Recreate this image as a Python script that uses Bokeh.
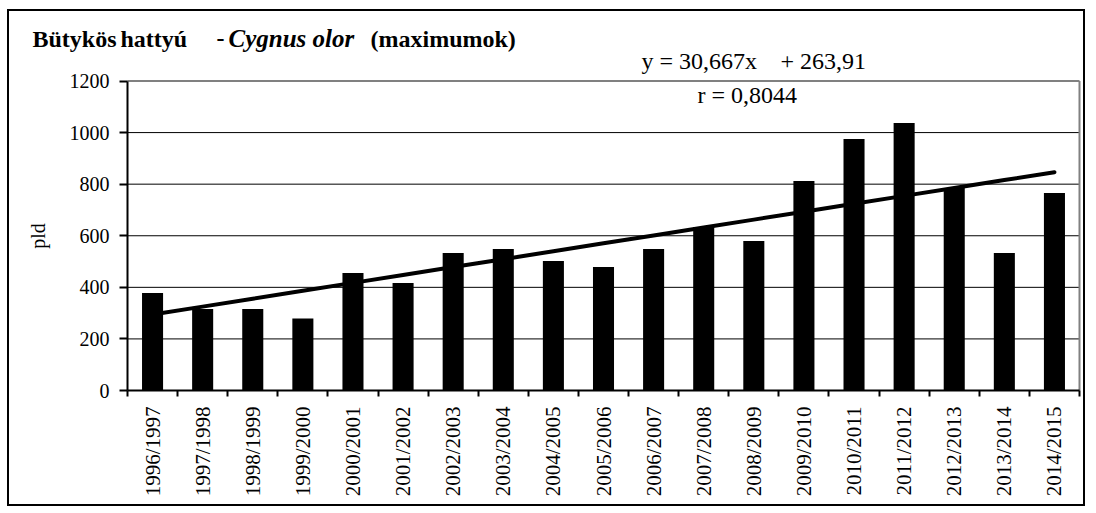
import math
from bokeh.plotting import figure
from bokeh.models import FixedTicker, Label, Range1d, ColumnDataSource
from bokeh.embed import file_html
from bokeh.resources import INLINE

# ---- data ----
seasons = ["1996/1997", "1997/1998", "1998/1999", "1999/2000", "2000/2001",
           "2001/2002", "2002/2003", "2003/2004", "2004/2005", "2005/2006",
           "2006/2007", "2007/2008", "2008/2009", "2009/2010", "2010/2011",
           "2011/2012", "2012/2013", "2013/2014", "2014/2015"]
maximums = [378, 316, 316, 279, 456, 417, 533, 549, 502, 479,
            549, 634, 580, 812, 975, 1037, 785, 533, 766]
trend_slope = 30.667
trend_intercept = 263.91
trend_r = "0,8044"
y_ticks = [0, 200, 400, 600, 800, 1000, 1200]
y_max = 1200

FONT = "Liberation Serif"

n = len(seasons)
x_idx = list(range(1, n + 1))
trend_y = [trend_slope * x + trend_intercept for x in x_idx]

# ---- layout (page pixels) ----
CANVAS_X0, CANVAS_Y0 = 9, 11      # page position of canvas (margin + css border)
W, H = 1078, 497
PX_LEFT, PX_RIGHT = 127, 1079     # plot area on the page
PX_TOP, PX_BOTTOM = 80.5, 390
TEXT_SHIFT = 9                    # label baseline correction

ux = (PX_RIGHT - PX_LEFT) / n
uy = (PX_BOTTOM - PX_TOP) / y_max
x_start = 0.5 - (PX_LEFT - CANVAS_X0) / ux
x_end = 0.5 + (CANVAS_X0 + W - PX_LEFT) / ux
y_end = (PX_BOTTOM - CANVAS_Y0) / uy
y_start = (PX_BOTTOM - (CANVAS_Y0 + H)) / uy

def dx(px):
    return 0.5 + (px - PX_LEFT) / ux

def dy(py):
    return (PX_BOTTOM - py) / uy

p = figure(width=W, height=H, title=None,
           x_range=Range1d(x_start, x_end), y_range=Range1d(y_start, y_end),
           output_backend="svg", toolbar_location=None, min_border=0)
p.styles = {"border": "2px solid black", "margin-left": "7px", "margin-top": "9px"}
p.background_fill_color = "white"
p.border_fill_color = "white"
p.outline_line_color = None
p.xgrid.visible = False
p.ygrid.visible = False

x_lo, x_hi = 0.5, n + 0.5

# gridlines
grid_vals = y_ticks[1:-1]
p.segment(x0=[x_lo] * len(grid_vals), y0=grid_vals, x1=[x_hi] * len(grid_vals), y1=grid_vals,
          line_color="black", line_width=1)
# plot-area border (top and right, gray)
p.segment(x0=[x_lo, x_hi], y0=[y_max, 0], x1=[x_hi, x_hi], y1=[y_max, y_max],
          line_color="#808080", line_width=2)

src = ColumnDataSource(dict(x=x_idx, top=maximums))
p.vbar(x="x", top="top", width=0.42, source=src, fill_color="black", line_color=None)
p.line(x_idx, trend_y, line_color="black", line_width=4, line_cap="round")

# y axis
yax = p.yaxis[0]
yax.fixed_location = x_lo
yax.bounds = (0, y_max)
yax.ticker = FixedTicker(ticks=y_ticks)
yax.axis_line_color = "black"
yax.axis_line_width = 2
yax.major_tick_out = 8
yax.major_tick_in = 0
yax.major_tick_line_width = 2
yax.minor_tick_line_color = None
yax.major_label_text_font = FONT
yax.major_label_text_font_size = "20px"
yax.major_label_text_color = "black"
yax.major_label_standoff = 10
yax.axis_label = "pld"
yax.axis_label_text_font = FONT
yax.axis_label_text_font_size = "20px"
yax.axis_label_text_font_style = "normal"
yax.axis_label_text_color = "black"
yax.axis_label_standoff = 18

# x axis
xax = p.xaxis[0]
xax.fixed_location = 0
xax.bounds = (x_lo, x_hi)
xax.ticker = FixedTicker(ticks=x_idx, minor_ticks=[x - 0.5 for x in x_idx] + [x_hi])
xax.major_label_overrides = {x: s for x, s in zip(x_idx, seasons)}
xax.major_label_orientation = math.pi / 2
xax.axis_line_color = "black"
xax.axis_line_width = 2
xax.major_tick_out = 0
xax.major_tick_in = 0
xax.minor_tick_out = 6
xax.minor_tick_in = 0
xax.minor_tick_line_color = "black"
xax.minor_tick_line_width = 2
xax.major_label_text_font = FONT
xax.major_label_text_font_size = "21px"
xax.major_label_text_color = "black"
xax.major_label_standoff = 10

def add_text(txt, px, py, size, style="normal"):
    p.add_layout(Label(x=dx(px), y=dy(py - TEXT_SHIFT), text=txt, text_font=FONT,
                       text_font_size=size, text_font_style=style,
                       text_color="black", text_baseline="alphabetic",
                       text_align="left"))

# title pieces
add_text("Bütykös", 32, 47, "24px", "bold")
add_text("hattyú", 120, 47, "24px", "bold")
add_text("-", 216, 47, "24px", "bold")
add_text("Cygnus olor", 228, 47, "25px", "bold italic")
add_text("(maximumok)", 370, 47, "24px", "bold")
# trendline equation
add_text("y = 30,667x", 641, 69, "24px")
add_text("+ 263,91", 780, 69, "24px")
add_text("r = " + trend_r, 697, 103, "24px")

open("out.html", "w").write(file_html(p, INLINE))
